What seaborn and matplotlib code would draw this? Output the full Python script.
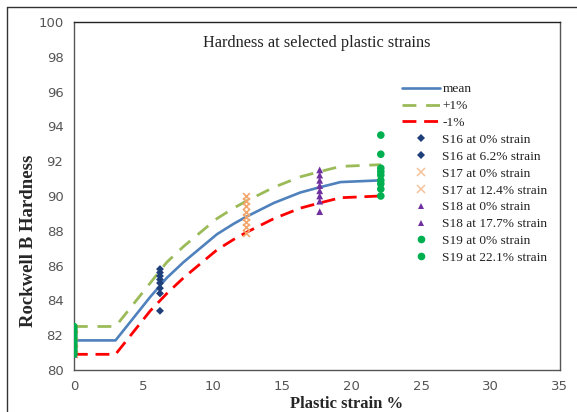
import numpy as np
import pandas as pd
import matplotlib
matplotlib.use("Agg")
import matplotlib.pyplot as plt
from matplotlib.lines import Line2D
import seaborn as sns

# Fitted hardness curves
strain_curve = [0, 3, 4.3, 5.5, 6.7, 7.9, 9.1, 10.3, 11.5, 12.4, 14.4, 16.3, 17.7, 19.2, 22.1]
mean_curve = [81.7, 81.7, 83.0, 84.2, 85.3, 86.2, 87.0, 87.8, 88.4, 88.8, 89.6, 90.2, 90.5, 90.8, 90.9]
plus_curve = [82.5, 82.5, 83.8, 85.0, 86.2, 87.1, 87.9, 88.7, 89.3, 89.7, 90.5, 91.1, 91.4, 91.7, 91.8]
minus_curve = [80.9, 80.9, 82.2, 83.4, 84.4, 85.3, 86.1, 86.9, 87.5, 87.9, 88.7, 89.3, 89.6, 89.9, 90.0]

# Measured hardness per specimen
s16_0 = [82.4, 82.0, 81.6, 81.2, 80.9]
s16_62 = [85.8, 85.6, 85.4, 85.2, 85.0, 84.7, 84.4, 83.4]
s17_0 = [82.4, 82.0, 81.6, 81.2, 80.9]
s17_124 = [90.0, 89.7, 89.4, 89.1, 88.8, 88.5, 88.2, 87.9]
s18_0 = [82.4, 82.0, 81.6, 81.2, 80.9]
s18_177 = [91.5, 91.2, 90.9, 90.6, 90.3, 90.0, 89.7, 89.1]
s19_0 = [82.5, 82.3, 82.1, 81.9, 81.7, 81.5, 81.3, 81.1, 80.9]
s19_221 = [93.5, 92.4, 91.6, 91.4, 91.2, 90.9, 90.7, 90.4, 90.0]

series = [
    ("S16 at 0% strain", 0.0, s16_0, "D", "#1F3F7A", 16),
    ("S16 at 6.2% strain", 6.2, s16_62, "D", "#1F3F7A", 16),
    ("S17 at 0% strain", 0.0, s17_0, "x", "#F2A66B", 24),
    ("S17 at 12.4% strain", 12.4, s17_124, "x", "#F2A66B", 24),
    ("S18 at 0% strain", 0.0, s18_0, "^", "#7030A0", 24),
    ("S18 at 17.7% strain", 17.7, s18_177, "^", "#7030A0", 24),
    ("S19 at 0% strain", 0.0, s19_0, "o", "#00B050", 30),
    ("S19 at 22.1% strain", 22.1, s19_221, "o", "#00B050", 30),
]

sns.set_style("white")
plt.rcParams["font.family"] = ["DejaVu Sans"]

fig = plt.figure(figsize=(5.77, 4.12), dpi=100)
ax = fig.add_axes([0.128, 0.102, 0.8425, 0.8446])

dash = (0, (5, 2.8))
curves = pd.DataFrame({"strain": strain_curve, "mean": mean_curve,
                       "plus": plus_curve, "minus": minus_curve})
sns.lineplot(data=curves, x="strain", y="mean", ax=ax, color="#4F81BD", lw=1.9)
sns.lineplot(data=curves, x="strain", y="plus", ax=ax, color="#9BBB59", lw=2.0,
             linestyle=(0, (5, 3.5)))
sns.lineplot(data=curves, x="strain", y="minus", ax=ax, color="#FF0000", lw=2.0,
             linestyle=dash)

for label, x, vals, marker, color, size in series:
    df = pd.DataFrame({"strain": [x] * len(vals), "hardness": vals})
    kw = dict(edgecolor="none") if marker != "x" else dict(linewidth=1.2)
    sns.scatterplot(data=df, x="strain", y="hardness", ax=ax, marker=marker,
                    color=color, s=size, zorder=3, **kw)

ax.set_xlim(0, 35)
ax.set_ylim(80, 100)
ax.set_xticks(range(0, 36, 5))
ax.set_yticks(range(80, 101, 2))
for sp in ax.spines.values():
    sp.set_color("#555555")
    sp.set_linewidth(1.0)
ax.spines["top"].set_color("#222222")
ax.tick_params(axis="both", direction="inout", length=7, width=1, color="#555555",
               labelsize=9.5, labelcolor="#555555", pad=4)

serif = ["Liberation Serif", "DejaVu Serif"]
ax.set_xlabel("Plastic strain %", family=serif, fontweight="bold", fontsize=12)
ax.set_ylabel("Rockwell B Hardness", family=serif, fontweight="bold", fontsize=13.5)
ax.xaxis.set_label_coords(0.56, -0.074)
ax.yaxis.set_label_coords(-0.076, 0.37)
ax.text(0.5, 0.94, "Hardness at selected plastic strains", transform=ax.transAxes,
        ha="center", va="center", family=serif, fontsize=11.7, color="#222222")

handles = [
    Line2D([], [], color="#4F81BD", lw=1.9),
    Line2D([], [], color="#9BBB59", lw=2.0, linestyle=(0, (5, 3.5))),
    Line2D([], [], color="#FF0000", lw=2.0, linestyle=dash),
]
labels = ["mean", "+1%", "-1%"]
for label, x, vals, marker, color, size in series:
    if marker == "x":
        h = Line2D([], [], marker="x", color="#F6C29A", lw=0, markersize=6,
                   markeredgewidth=1.1)
    else:
        h = Line2D([], [], marker=marker, color=color, lw=0,
                   markersize=4.5 if marker != "o" else 5.5, markeredgewidth=0)
    handles.append(h)
    labels.append(label)

leg = ax.legend(handles, labels, loc="upper left", bbox_to_anchor=(0.665, 0.84),
                frameon=False, prop={"family": serif, "size": 9.6},
                handlelength=2.8, handletextpad=0.2, labelspacing=0.34,
                borderaxespad=0)
for t in leg.get_texts():
    t.set_color("#222222")

# outer frame of the figure
fig.add_artist(plt.Line2D([7 / 577, 7 / 577], [0, 1 - 7 / 412],
                          transform=fig.transFigure, color="#333333", lw=1))
fig.add_artist(plt.Line2D([7 / 577, 1], [1 - 7 / 412, 1 - 7 / 412],
                          transform=fig.transFigure, color="#333333", lw=1))

fig.savefig("out.png", dpi=100)
